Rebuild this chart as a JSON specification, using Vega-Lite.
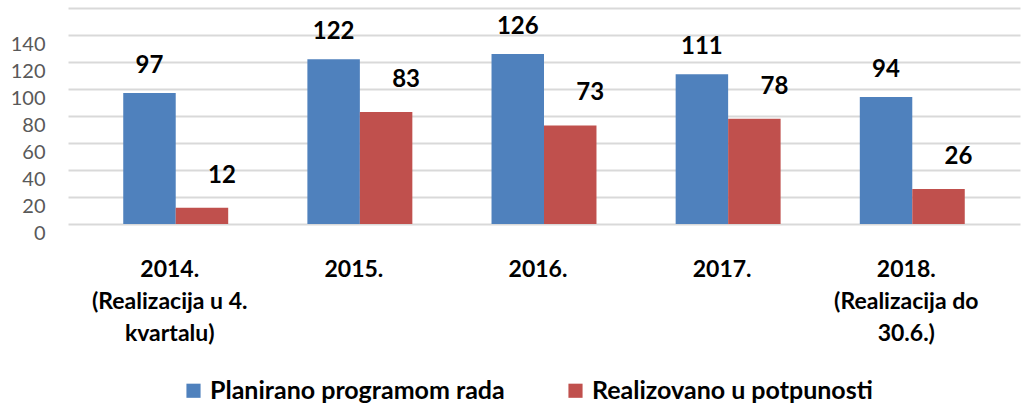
{
  "$schema": "https://vega.github.io/schema/vega-lite/v6.json",
  "autosize": "none",
  "width": 952,
  "height": 216,
  "padding": {"left": 68, "top": 8, "right": 6, "bottom": 186},
  "background": "white",
  "config": {"view": {"stroke": null}, "font": "Lato"},
  "data": {"values": [
    {"year": "2014.|(Realizacija u 4.|kvartalu)", "series": "Planirano programom rada", "value": 97},
    {"year": "2014.|(Realizacija u 4.|kvartalu)", "series": "Realizovano u potpunosti", "value": 12},
    {"year": "2015.", "series": "Planirano programom rada", "value": 122},
    {"year": "2015.", "series": "Realizovano u potpunosti", "value": 83},
    {"year": "2016.", "series": "Planirano programom rada", "value": 126},
    {"year": "2016.", "series": "Realizovano u potpunosti", "value": 73},
    {"year": "2017.", "series": "Planirano programom rada", "value": 111},
    {"year": "2017.", "series": "Realizovano u potpunosti", "value": 78},
    {"year": "2018.|(Realizacija do|30.6.)", "series": "Planirano programom rada", "value": 94},
    {"year": "2018.|(Realizacija do|30.6.)", "series": "Realizovano u potpunosti", "value": 26}
  ]},
  "encoding": {
    "x": {
      "field": "year", "type": "nominal", "sort": null, "title": null,
      "scale": {"paddingInner": 0.43, "paddingOuter": 0.3},
      "axis": {
        "labelExpr": "split(datum.label, '|')",
        "labelAngle": 0, "labelFont": "Lato", "labelFontWeight": "bold", "labelFontSize": 23,
        "labelColor": "#000000", "labelLineHeight": 32, "labelPadding": 34, "labelOffset": -6,
        "ticks": false, "domain": false, "grid": false
      }
    },
    "xOffset": {"field": "series", "type": "nominal"},
    "y": {
      "field": "value", "type": "quantitative", "title": null,
      "scale": {"domain": [0, 160], "nice": false},
      "axis": {
        "values": [0, 20, 40, 60, 80, 100, 120, 140, 160],
        "labelExpr": "datum.value > 150 ? '' : datum.label",
        "labelFont": "Lato", "labelFontSize": 20, "labelColor": "#595959",
        "labelPadding": 23, "labelOffset": 9,
        "ticks": false, "domain": false,
        "gridColor": "#d9d9d9", "gridWidth": 2
      }
    }
  },
  "layer": [
    {
      "mark": {"type": "bar"},
      "encoding": {
        "color": {
          "field": "series", "type": "nominal", "title": null,
          "scale": {"domain": ["Planirano programom rada", "Realizovano u potpunosti"], "range": ["#4F81BD", "#C0504D"]},
          "legend": {
            "orient": "none", "legendX": 113, "legendY": 370, "direction": "horizontal",
            "symbolType": "square", "symbolSize": 200, "symbolStrokeWidth": 0,
            "labelFont": "Lato", "labelFontWeight": "bold", "labelFontSize": 25, "labelColor": "#000000",
            "columnPadding": 58, "labelLimit": 400, "labelOffset": 4
          }
        }
      }
    },
    {
      "transform": [{"filter": "datum.series === 'Planirano programom rada'"}],
      "mark": {"type": "text", "baseline": "alphabetic", "dy": -20, "fontSize": 24, "fontWeight": "bold", "font": "Lato", "color": "#000000"},
      "encoding": {"text": {"field": "value", "type": "quantitative"}}
    },
    {
      "transform": [{"filter": "datum.series === 'Realizovano u potpunosti'"}],
      "mark": {"type": "text", "baseline": "alphabetic", "dy": -25, "dx": 20, "fontSize": 24, "fontWeight": "bold", "font": "Lato", "color": "#000000"},
      "encoding": {"text": {"field": "value", "type": "quantitative"}}
    }
  ]
}
